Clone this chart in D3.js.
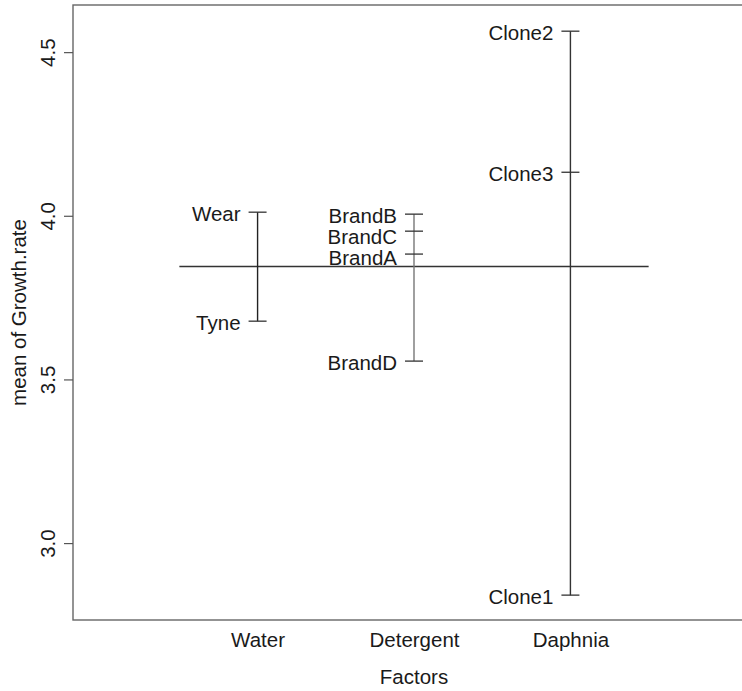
<!DOCTYPE html>
<html><head><meta charset="utf-8">
<script src="https://cdn.jsdelivr.net/npm/d3@7"></script>
<style>body{margin:0;background:#fff}svg{display:block}text{font-family:"Liberation Sans",Arial,Helvetica,sans-serif;fill:#1a1a1a}</style>
</head><body><svg id="c" width="742" height="691"></svg>
<script>
const factors = ["Water", "Detergent", "Daphnia"];
const levelNames = [["Wear", "Tyne"], ["BrandB", "BrandC", "BrandA", "BrandD"], ["Clone2", "Clone3", "Clone1"]];
const levelMeans = [[4.011, 3.678], [4.005, 3.953, 3.883, 3.556], [4.564, 4.133, 2.841]];
const grandMean = 3.845;
const yTicks = [3.0, 3.5, 4.0, 4.5];
const yLabel = "mean of Growth.rate";
const xLabel = "Factors";

const svg = d3.select("#c");
const L = 73, T = 5, R = 755, B = 620;
const x = d3.scaleLinear().domain([-0.18, 4.18]).range([L, R]);
const y = d3.scaleLinear().domain([2.765, 4.644]).range([B, T]);
const FS = "20.5px";

// frame
svg.append("rect").attr("x", L).attr("y", T).attr("width", R - L).attr("height", B - T)
  .attr("fill", "none").attr("stroke", "#666").attr("stroke-width", 1.4);

// y axis
const yAxis = d3.axisLeft(y).tickValues(yTicks).tickFormat(d3.format(".1f")).tickSize(9).tickPadding(0);
const ga = svg.append("g").attr("transform", `translate(${L},0)`).call(yAxis);
ga.select(".domain").remove();
ga.selectAll(".tick line").attr("stroke", "#555").attr("stroke-width", 1.2);
ga.selectAll(".tick text").attr("x", 0).attr("y", 0).attr("dy", null).attr("dx", null)
  .attr("transform", "translate(-26,0) rotate(-90)").attr("text-anchor", "middle")
  .attr("dominant-baseline", "central").style("font-size", FS).style("font-family", "'Liberation Sans',Arial,sans-serif").attr("fill", "#1a1a1a");

// x axis labels
const xAxis = d3.axisBottom(x).tickValues([1, 2, 3]).tickFormat((d) => factors[d - 1]).tickSize(0).tickPadding(12);
const gx = svg.append("g").attr("transform", `translate(0,${B})`).call(xAxis);
gx.select(".domain").remove();
gx.selectAll(".tick text").style("font-size", FS).style("font-family", "'Liberation Sans',Arial,sans-serif").attr("fill", "#1a1a1a");

svg.append("text").attr("x", x(2)).attr("y", 676).attr("text-anchor", "middle")
  .attr("dominant-baseline", "central").style("font-size", FS).text(xLabel);
svg.append("text").attr("transform", `translate(18,${(T + B) / 2}) rotate(-90)`).attr("text-anchor", "middle")
  .attr("dominant-baseline", "central").style("font-size", FS).text(yLabel);

// grand mean line
svg.append("line").attr("x1", x(0.5)).attr("x2", x(3.5)).attr("y1", y(grandMean)).attr("y2", y(grandMean))
  .attr("stroke", "#333").attr("stroke-width", 1.3);

const vcol = ["#222", "#777", "#333"];
const minGap = 21;
factors.forEach((f, i) => {
  const xi = x(i + 1);
  const vals = levelMeans[i];
  svg.append("line").attr("x1", xi).attr("x2", xi).attr("y1", y(d3.max(vals))).attr("y2", y(d3.min(vals)))
    .attr("stroke", vcol[i]).attr("stroke-width", 1.4);
  // dodge labels top-down so they don't collide
  const order = d3.range(vals.length).sort((a, b) => vals[b] - vals[a]);
  const labelY = {};
  let prev = -Infinity;
  order.forEach((j) => {
    let ly = y(vals[j]) + 1.5;
    if (ly < prev + minGap) ly = prev + minGap;
    labelY[j] = ly; prev = ly;
  });
  vals.forEach((v, j) => {
    svg.append("line").attr("x1", xi - 9).attr("x2", xi + 9).attr("y1", y(v)).attr("y2", y(v))
      .attr("stroke", "#333").attr("stroke-width", 1.3);
    svg.append("text").attr("x", xi - 17).attr("y", labelY[j]).attr("text-anchor", "end")
      .attr("dominant-baseline", "central").style("font-size", FS).text(levelNames[i][j]);
  });
});
</script></body></html>
